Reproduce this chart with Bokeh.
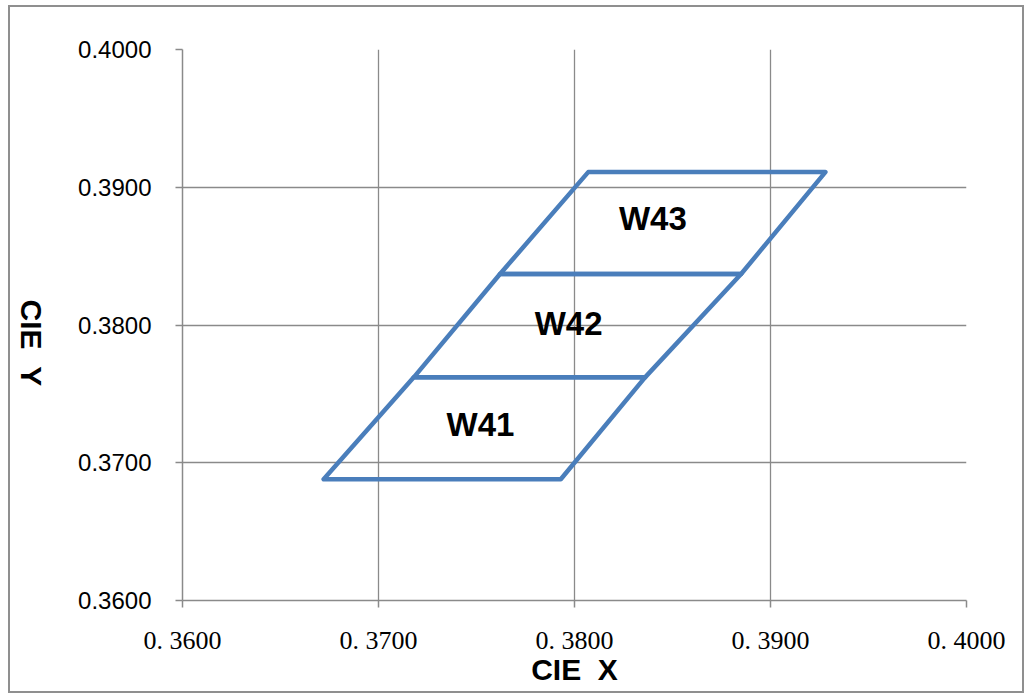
import math
from bokeh.plotting import figure
from bokeh.layouts import row
from bokeh.models import Range1d, FixedTicker, ColumnDataSource
from bokeh.core.properties import value
from bokeh.embed import file_html
from bokeh.resources import INLINE

# ---- data ----
bin_names = ["W41", "W42", "W43"]
bin_xs = [
    [0.3672, 0.3793, 0.3836, 0.3718],
    [0.3718, 0.3836, 0.3885, 0.3762],
    [0.3762, 0.3885, 0.3928, 0.3807],
]
bin_ys = [
    [0.3688, 0.3688, 0.3762, 0.3762],
    [0.3762, 0.3762, 0.3837, 0.3837],
    [0.3837, 0.3837, 0.3911, 0.3911],
]
label_x = [0.3752, 0.3797, 0.3840]
label_y = [0.3728, 0.3801, 0.3877]

x_ticks = [0.36, 0.37, 0.38, 0.39, 0.40]
x_tick_labels = ["0. 3600", "0. 3700", "0. 3800", "0. 3900", "0. 4000"]
y_ticks = [0.36, 0.37, 0.38, 0.39, 0.40]
y_tick_labels = ["0.3600", "0.3700", "0.3800", "0.3900", "0.4000"]

x_title = "CIE \u00a0X"
y_title = "CIE \u00a0Y"

H = 684
TOP = 42
BOTTOM = 91
yr = Range1d(0.36, 0.40)

# ---- main figure ----
p = figure(width=950, height=H, output_backend="svg", toolbar_location=None,
           x_range=Range1d(0.36, 0.40), y_range=yr,
           min_border_left=110, min_border_top=TOP, min_border_right=56,
           min_border_bottom=BOTTOM)
p.outline_line_color = None
p.background_fill_color = "white"
p.border_fill_color = "white"

grid_col = "#8a8a8a"
for ax in (p.xaxis[0], p.yaxis[0]):
    ax.axis_line_color = grid_col
    ax.axis_line_width = 1.5
    ax.major_tick_line_color = grid_col
    ax.major_tick_line_width = 1.5
    ax.major_tick_out = 7
    ax.major_tick_in = 0
    ax.minor_tick_line_color = None
    ax.major_label_text_color = "black"
    ax.axis_label_text_font = "Liberation Sans"
    ax.axis_label_text_font_style = "bold"
    ax.axis_label_text_font_size = "30px"
    ax.axis_label_text_color = "black"

p.xaxis.ticker = FixedTicker(ticks=x_ticks)
p.yaxis.ticker = FixedTicker(ticks=y_ticks)
p.xaxis.major_label_overrides = {t: l for t, l in zip(x_ticks, x_tick_labels)}
p.yaxis.major_label_overrides = {t: l for t, l in zip(y_ticks, y_tick_labels)}
p.xaxis.major_label_text_font = "Liberation Serif"
p.xaxis.major_label_text_font_size = "26px"
p.xaxis.major_label_standoff = 18
p.yaxis.major_label_text_font = "Liberation Sans"
p.yaxis.major_label_text_font_size = "24px"
p.yaxis.major_label_standoff = 24

p.xaxis.axis_label = x_title
p.xaxis.axis_label_standoff = -5

p.xgrid.ticker = FixedTicker(ticks=x_ticks)
p.ygrid.ticker = FixedTicker(ticks=y_ticks)
p.xgrid.grid_line_color = grid_col
p.ygrid.grid_line_color = grid_col
p.xgrid.grid_line_width = 1.3
p.ygrid.grid_line_width = 1.3

src = ColumnDataSource(dict(xs=bin_xs, ys=bin_ys, name=bin_names))
p.patches("xs", "ys", source=src, fill_alpha=0, line_color="#4a7ebb",
          line_width=4.5, line_join="round")

lsrc = ColumnDataSource(dict(x=label_x, y=label_y, t=bin_names))
p.text("x", "y", text="t", source=lsrc, text_font=value("Liberation Sans"),
       text_font_style="bold", text_font_size="33px", text_align="center",
       text_baseline="middle", text_color="black")

# ---- narrow panel holding the vertical y-axis title (reads top to bottom) ----
pl = figure(width=62, height=H, output_backend="svg", toolbar_location=None,
            x_range=Range1d(0, 1), y_range=yr, x_axis_type=None, y_axis_type=None,
            min_border_left=0, min_border_right=0, min_border_top=TOP,
            min_border_bottom=BOTTOM)
pl.outline_line_color = None
pl.grid.visible = False
pl.background_fill_color = "white"
pl.border_fill_color = "white"
pl.text(x=[0.34], y=[0.3787], text=[y_title], text_font=value("Liberation Sans"),
        text_font_style="bold", text_font_size="30px", angle=-math.pi / 2,
        text_align="center", text_baseline="middle", text_color="black")

layout = row(pl, p)
layout.margin = (5, 0, 0, 8)
layout.styles = {"border": "2px solid #8f8f8f", "background": "white"}

open("out.html", "w").write(file_html(layout, INLINE))
